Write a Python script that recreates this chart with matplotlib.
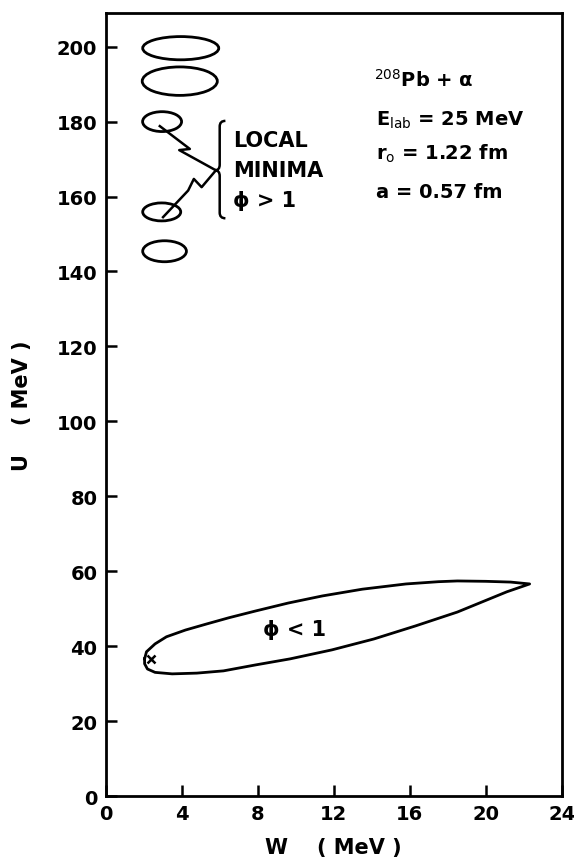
import numpy as np
import matplotlib
matplotlib.use('Agg')
import matplotlib.pyplot as plt
from matplotlib.patches import Ellipse
from matplotlib.path import Path
from matplotlib.patches import PathPatch

# local minima (phi > 1): centre W, centre U, full width, full height
min_w = [3.95, 3.9, 2.97, 2.95, 3.1]
min_u = [199.6, 190.8, 180.0, 155.9, 145.4]
min_dw = [4.0, 3.95, 2.05, 2.0, 2.3]
min_du = [6.2, 7.6, 5.3, 4.8, 5.6]

# phi < 1 contour
loop_w = [2.05, 2.15, 2.6, 3.2, 4.2, 5.3, 6.5, 7.9, 9.6, 11.4, 13.5, 15.8, 17.5,
          18.5, 20.0, 21.3, 22.3, 21.1, 19.8, 18.5, 16.3, 14.1, 11.9, 9.7, 7.9,
          6.2, 4.8, 3.5, 2.6, 2.2, 2.05, 2.05]
loop_u = [36.6, 38.5, 40.6, 42.5, 44.3, 45.9, 47.6, 49.4, 51.5, 53.4, 55.2, 56.6,
          57.2, 57.4, 57.3, 57.1, 56.6, 54.5, 51.8, 49.1, 45.4, 41.9, 39.0, 36.6,
          35.0, 33.4, 32.8, 32.6, 33.0, 33.9, 35.3, 36.6]

best_w, best_u = 2.4, 36.6

# zig-zag pointers to the local minima
zig1_w = [2.85, 4.43, 3.87, 5.8]
zig1_u = [178.8, 172.7, 172.4, 167.0]
zig2_w = [5.8, 5.05, 4.64, 4.34, 3.02]
zig2_u = [167.0, 162.5, 164.7, 161.6, 154.5]

x_ticks = [0, 4, 8, 12, 16, 20, 24]
y_ticks = list(range(0, 201, 20))

lw = 2.0
fs = 14

fig = plt.figure(figsize=(5.74, 8.62), dpi=100)
ax = fig.add_axes([0.184, 0.0754, 0.795, 0.9084])

for w, u, dw, du in zip(min_w, min_u, min_dw, min_du):
    ax.add_patch(Ellipse((w, u), dw, du, fill=False, lw=lw, ec='black'))

ax.plot(loop_w, loop_u, color='black', lw=lw, solid_joinstyle='round')
ax.plot(best_w, best_u, marker='x', color='black', ms=6, mew=1.8)

ax.plot(zig1_w, zig1_u, color='black', lw=1.8)
ax.plot(zig2_w, zig2_u, color='black', lw=1.8)

# curly brace
bx, tip, top, bot = 6.0, 167.0, 180.2, 154.2
verts = [(bx + 0.3, top), (bx, top), (bx, top - 1.5),
         (bx, tip + 1.5),
         (bx, tip), (bx - 0.25, tip),
         (bx, tip), (bx, tip - 1.5),
         (bx, bot + 1.5),
         (bx, bot), (bx + 0.3, bot)]
codes = [Path.MOVETO, Path.CURVE3, Path.CURVE3,
         Path.LINETO,
         Path.CURVE3, Path.CURVE3,
         Path.CURVE3, Path.CURVE3,
         Path.LINETO,
         Path.CURVE3, Path.CURVE3]
ax.add_patch(PathPatch(Path(verts, codes), fill=False, lw=1.8, ec='black'))

ax.text(6.7, 175.2, 'LOCAL', fontsize=15, fontweight='bold', va='center')
ax.text(6.7, 167.0, 'MINIMA', fontsize=15, fontweight='bold', va='center')
ax.text(6.7, 159.0, 'ϕ > 1', fontsize=15, fontweight='bold', va='center')

ax.text(9.95, 44.5, 'ϕ < 1', fontsize=15, fontweight='bold', ha='center', va='center')

ax.text(14.1, 189.6, r'$^{208}$Pb + α', fontsize=14, fontweight='bold')
ax.text(14.2, 179.3, r'E$_{\mathrm{lab}}$ = 25 MeV', fontsize=14, fontweight='bold')
ax.text(14.2, 170.0, r'r$_{\mathrm{o}}$ = 1.22 fm', fontsize=14, fontweight='bold')
ax.text(14.2, 160.0, 'a = 0.57 fm', fontsize=14, fontweight='bold')

ax.set_xlim(0, 24)
ax.set_ylim(0, 209)
ax.set_xticks(x_ticks)
ax.set_yticks(y_ticks)
ax.set_xticklabels([str(t) for t in x_ticks], fontsize=fs, fontweight='bold')
ax.set_yticklabels([str(t) for t in y_ticks], fontsize=fs, fontweight='bold')
ax.tick_params(direction='in', length=8, width=1.8, pad=6)
for s in ax.spines.values():
    s.set_linewidth(2)

ax.set_xlabel('W    ( MeV )', fontsize=15, fontweight='bold', labelpad=10)
ax.set_ylabel('U    ( MeV )', fontsize=15, fontweight='bold', labelpad=18)

fig.savefig('out.png', dpi=100)
